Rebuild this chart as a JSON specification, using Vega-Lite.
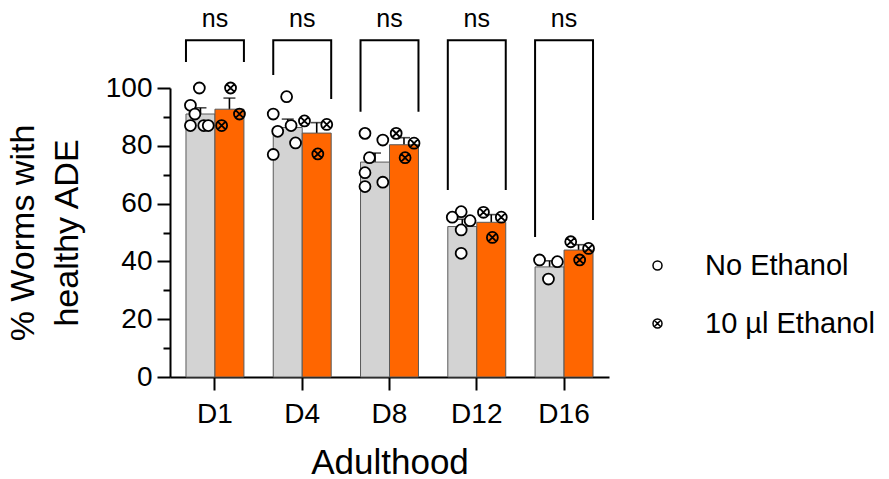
{
  "$schema": "https://vega.github.io/schema/vega-lite/v6.json",
  "autosize": {"type": "none"},
  "padding": {"left": 170, "top": 88, "right": 280, "bottom": 102},
  "width": 439,
  "height": 289,
  "config": {
    "font": "Liberation Sans",
    "view": {"stroke": null},
    "legend": {
      "labelFontSize": 29,
      "labelColor": "black",
      "labelLimit": 400,
      "symbolSize": 81,
      "symbolStrokeWidth": 1.5,
      "symbolStrokeColor": "black",
      "symbolFillColor": "white",
      "rowPadding": 28,
      "labelOffset": 33,
      "padding": 0
    }
  },
  "datasets": {
    "pts": [
      {"day": "D1", "cond": "No Ethanol", "v": 100, "rep": 4},
      {"day": "D1", "cond": "No Ethanol", "v": 94, "rep": 2},
      {"day": "D1", "cond": "No Ethanol", "v": 91, "rep": 3},
      {"day": "D1", "cond": "No Ethanol", "v": 87, "rep": 2},
      {"day": "D1", "cond": "No Ethanol", "v": 87, "rep": 5},
      {"day": "D1", "cond": "No Ethanol", "v": 87, "rep": 6},
      {"day": "D1", "cond": "10 µl Ethanol", "v": 100, "rep": 4},
      {"day": "D1", "cond": "10 µl Ethanol", "v": 91, "rep": 6},
      {"day": "D1", "cond": "10 µl Ethanol", "v": 87, "rep": 2},
      {"day": "D4", "cond": "No Ethanol", "v": 97, "rep": 4},
      {"day": "D4", "cond": "No Ethanol", "v": 91, "rep": 1},
      {"day": "D4", "cond": "No Ethanol", "v": 87, "rep": 5},
      {"day": "D4", "cond": "No Ethanol", "v": 85, "rep": 2},
      {"day": "D4", "cond": "No Ethanol", "v": 81, "rep": 6},
      {"day": "D4", "cond": "No Ethanol", "v": 77, "rep": 1},
      {"day": "D4", "cond": "10 µl Ethanol", "v": 88.6, "rep": 1},
      {"day": "D4", "cond": "10 µl Ethanol", "v": 87.4, "rep": 6},
      {"day": "D4", "cond": "10 µl Ethanol", "v": 77.2, "rep": 4},
      {"day": "D8", "cond": "No Ethanol", "v": 84.3, "rep": 2},
      {"day": "D8", "cond": "No Ethanol", "v": 82, "rep": 6},
      {"day": "D8", "cond": "No Ethanol", "v": 75.9, "rep": 3},
      {"day": "D8", "cond": "No Ethanol", "v": 70.7, "rep": 2},
      {"day": "D8", "cond": "No Ethanol", "v": 65.9, "rep": 2},
      {"day": "D8", "cond": "No Ethanol", "v": 67.4, "rep": 6},
      {"day": "D8", "cond": "10 µl Ethanol", "v": 84.3, "rep": 2},
      {"day": "D8", "cond": "10 µl Ethanol", "v": 80.9, "rep": 6},
      {"day": "D8", "cond": "10 µl Ethanol", "v": 75.9, "rep": 4},
      {"day": "D12", "cond": "No Ethanol", "v": 57.2, "rep": 4},
      {"day": "D12", "cond": "No Ethanol", "v": 55.3, "rep": 2},
      {"day": "D12", "cond": "No Ethanol", "v": 54.1, "rep": 6},
      {"day": "D12", "cond": "No Ethanol", "v": 50.9, "rep": 4},
      {"day": "D12", "cond": "No Ethanol", "v": 42.8, "rep": 4},
      {"day": "D12", "cond": "10 µl Ethanol", "v": 57, "rep": 2},
      {"day": "D12", "cond": "10 µl Ethanol", "v": 55.3, "rep": 6},
      {"day": "D12", "cond": "10 µl Ethanol", "v": 48.3, "rep": 4},
      {"day": "D16", "cond": "No Ethanol", "v": 40.5, "rep": 2},
      {"day": "D16", "cond": "No Ethanol", "v": 39.9, "rep": 6},
      {"day": "D16", "cond": "No Ethanol", "v": 33.9, "rep": 4},
      {"day": "D16", "cond": "10 µl Ethanol", "v": 46.8, "rep": 2},
      {"day": "D16", "cond": "10 µl Ethanol", "v": 44.5, "rep": 6},
      {"day": "D16", "cond": "10 µl Ethanol", "v": 40.5, "rep": 4}
    ],
    "brackets": [
      {"day": "D1", "cond": "No Ethanol", "v": 109, "seq": 1},
      {"day": "D1", "cond": "No Ethanol", "v": 116.5, "seq": 2},
      {"day": "D1", "cond": "10 µl Ethanol", "v": 116.5, "seq": 3},
      {"day": "D1", "cond": "10 µl Ethanol", "v": 109, "seq": 4},
      {"day": "D4", "cond": "No Ethanol", "v": 104.5, "seq": 1},
      {"day": "D4", "cond": "No Ethanol", "v": 116.5, "seq": 2},
      {"day": "D4", "cond": "10 µl Ethanol", "v": 116.5, "seq": 3},
      {"day": "D4", "cond": "10 µl Ethanol", "v": 96.2, "seq": 4},
      {"day": "D8", "cond": "No Ethanol", "v": 91.8, "seq": 1},
      {"day": "D8", "cond": "No Ethanol", "v": 116.5, "seq": 2},
      {"day": "D8", "cond": "10 µl Ethanol", "v": 116.5, "seq": 3},
      {"day": "D8", "cond": "10 µl Ethanol", "v": 91.8, "seq": 4},
      {"day": "D12", "cond": "No Ethanol", "v": 64.7, "seq": 1},
      {"day": "D12", "cond": "No Ethanol", "v": 116.5, "seq": 2},
      {"day": "D12", "cond": "10 µl Ethanol", "v": 116.5, "seq": 3},
      {"day": "D12", "cond": "10 µl Ethanol", "v": 64.7, "seq": 4},
      {"day": "D16", "cond": "No Ethanol", "v": 48.4, "seq": 1},
      {"day": "D16", "cond": "No Ethanol", "v": 116.5, "seq": 2},
      {"day": "D16", "cond": "10 µl Ethanol", "v": 116.5, "seq": 3},
      {"day": "D16", "cond": "10 µl Ethanol", "v": 54.3, "seq": 4}
    ],
    "sig": [
      {"day": "D1", "v": 124, "label": "ns"},
      {"day": "D4", "v": 124, "label": "ns"},
      {"day": "D8", "v": 124, "label": "ns"},
      {"day": "D12", "v": 124, "label": "ns"},
      {"day": "D16", "v": 124, "label": "ns"}
    ]
  },
  "encoding": {
    "x": {
      "field": "day",
      "type": "nominal",
      "sort": ["D1", "D4", "D8", "D12", "D16"],
      "scale": {"domain": ["D1", "D4", "D8", "D12", "D16"], "paddingInner": 0.336, "paddingOuter": 0.183},
      "axis": {
        "title": "Adulthood",
        "labelAngle": 0,
        "labelFontSize": 28,
        "labelColor": "black",
        "titleFontSize": 35,
        "titleFontWeight": "normal",
        "titleColor": "black",
        "domainColor": "black",
        "domainWidth": 2,
        "tickColor": "black",
        "tickWidth": 2,
        "tickSize": 13,
        "labelPadding": 10,
        "titlePadding": 17
      }
    },
    "y": {
      "field": "v",
      "type": "quantitative",
      "scale": {"domain": [0, 100], "nice": false, "zero": true},
      "axis": {
        "title": ["% Worms with", "healthy ADE"],
        "values": [0, 10, 20, 30, 40, 50, 60, 70, 80, 90, 100],
        "labelExpr": "datum.value % 20 === 0 ? datum.label : ''",
        "tickSize": {"condition": {"test": "datum.value % 20 === 0", "value": 13}, "value": 7},
        "grid": false,
        "labelFontSize": 28,
        "labelColor": "black",
        "labelPadding": 5,
        "titleFontSize": 34,
        "titleFontWeight": "normal",
        "titleColor": "black",
        "titleLineHeight": 44,
        "titlePadding": 21,
        "domainColor": "black",
        "domainWidth": 2,
        "tickColor": "black",
        "tickWidth": 2
      }
    }
  },
  "layer": [
    {
      "data": {"name": "pts"},
      "mark": {"type": "errorbar", "extent": "stderr", "color": "black", "thickness": 1.6, "ticks": {"size": 12}},
      "encoding": {
        "xOffset": {"field": "cond", "type": "nominal", "scale": {"domain": ["No Ethanol", "10 µl Ethanol"], "paddingInner": 0, "paddingOuter": 0}}
      }
    },
    {
      "data": {"name": "pts"},
      "mark": {"type": "bar", "stroke": "#5a5a5a", "strokeWidth": 1},
      "encoding": {
        "y": {"aggregate": "mean", "field": "v", "type": "quantitative"},
        "xOffset": {"field": "cond", "type": "nominal", "scale": {"domain": ["No Ethanol", "10 µl Ethanol"], "paddingInner": 0, "paddingOuter": 0}},
        "color": {"field": "cond", "type": "nominal", "scale": {"domain": ["10 µl Ethanol", "No Ethanol"], "range": ["#FF6600", "#D3D3D3"]}, "legend": null}
      }
    },
    {
      "data": {"name": "pts"},
      "transform": [{"calculate": "(datum.cond === 'No Ethanol' ? 'N' : 'E') + datum.rep", "as": "slot"}],
      "mark": {"type": "point", "stroke": "black", "strokeWidth": 1.8, "size": 120, "opacity": 1},
      "encoding": {
        "xOffset": {"field": "slot", "type": "nominal", "scale": {"domain": ["N1", "N2", "N3", "N4", "N5", "N6", "N7", "E1", "E2", "E3", "E4", "E5", "E6", "E7"], "paddingInner": 0, "paddingOuter": 0}},
        "shape": {
          "field": "cond",
          "type": "nominal",
          "scale": {"domain": ["No Ethanol", "10 µl Ethanol"], "range": ["circle", "M -1 0 A 1 1 0 1 0 1 0 A 1 1 0 1 0 -1 0 Z M -0.707 -0.707 L 0.707 0.707 M -0.707 0.707 L 0.707 -0.707"]},
          "legend": {
            "title": null, "orient": "none", "legendX": 473, "legendY": 163,
            "encode": {"symbols": {"stroke": {"value": "black"}, "strokeWidth": {"value": 1.5}, "opacity": {"value": 1}, "strokeOpacity": {"value": 1}, "size": {"value": 81}}}
          }
        },
        "fill": {
          "field": "cond",
          "type": "nominal",
          "scale": {"domain": ["10 µl Ethanol", "No Ethanol"], "range": ["transparent", "white"]},
          "legend": null
        }
      }
    },
    {
      "data": {"name": "brackets"},
      "mark": {"type": "line", "color": "black", "strokeWidth": 2},
      "encoding": {
        "xOffset": {"field": "cond", "type": "nominal", "scale": {"domain": ["No Ethanol", "10 µl Ethanol"], "paddingInner": 0, "paddingOuter": 0}},
        "detail": {"field": "day", "type": "nominal"},
        "order": {"field": "seq", "type": "quantitative"}
      }
    },
    {
      "data": {"name": "sig"},
      "mark": {"type": "text", "fontSize": 25, "color": "black", "baseline": "middle"},
      "encoding": {
        "text": {"field": "label", "type": "nominal"}
      }
    }
  ],
  "resolve": {"scale": {"xOffset": "independent"}}
}
